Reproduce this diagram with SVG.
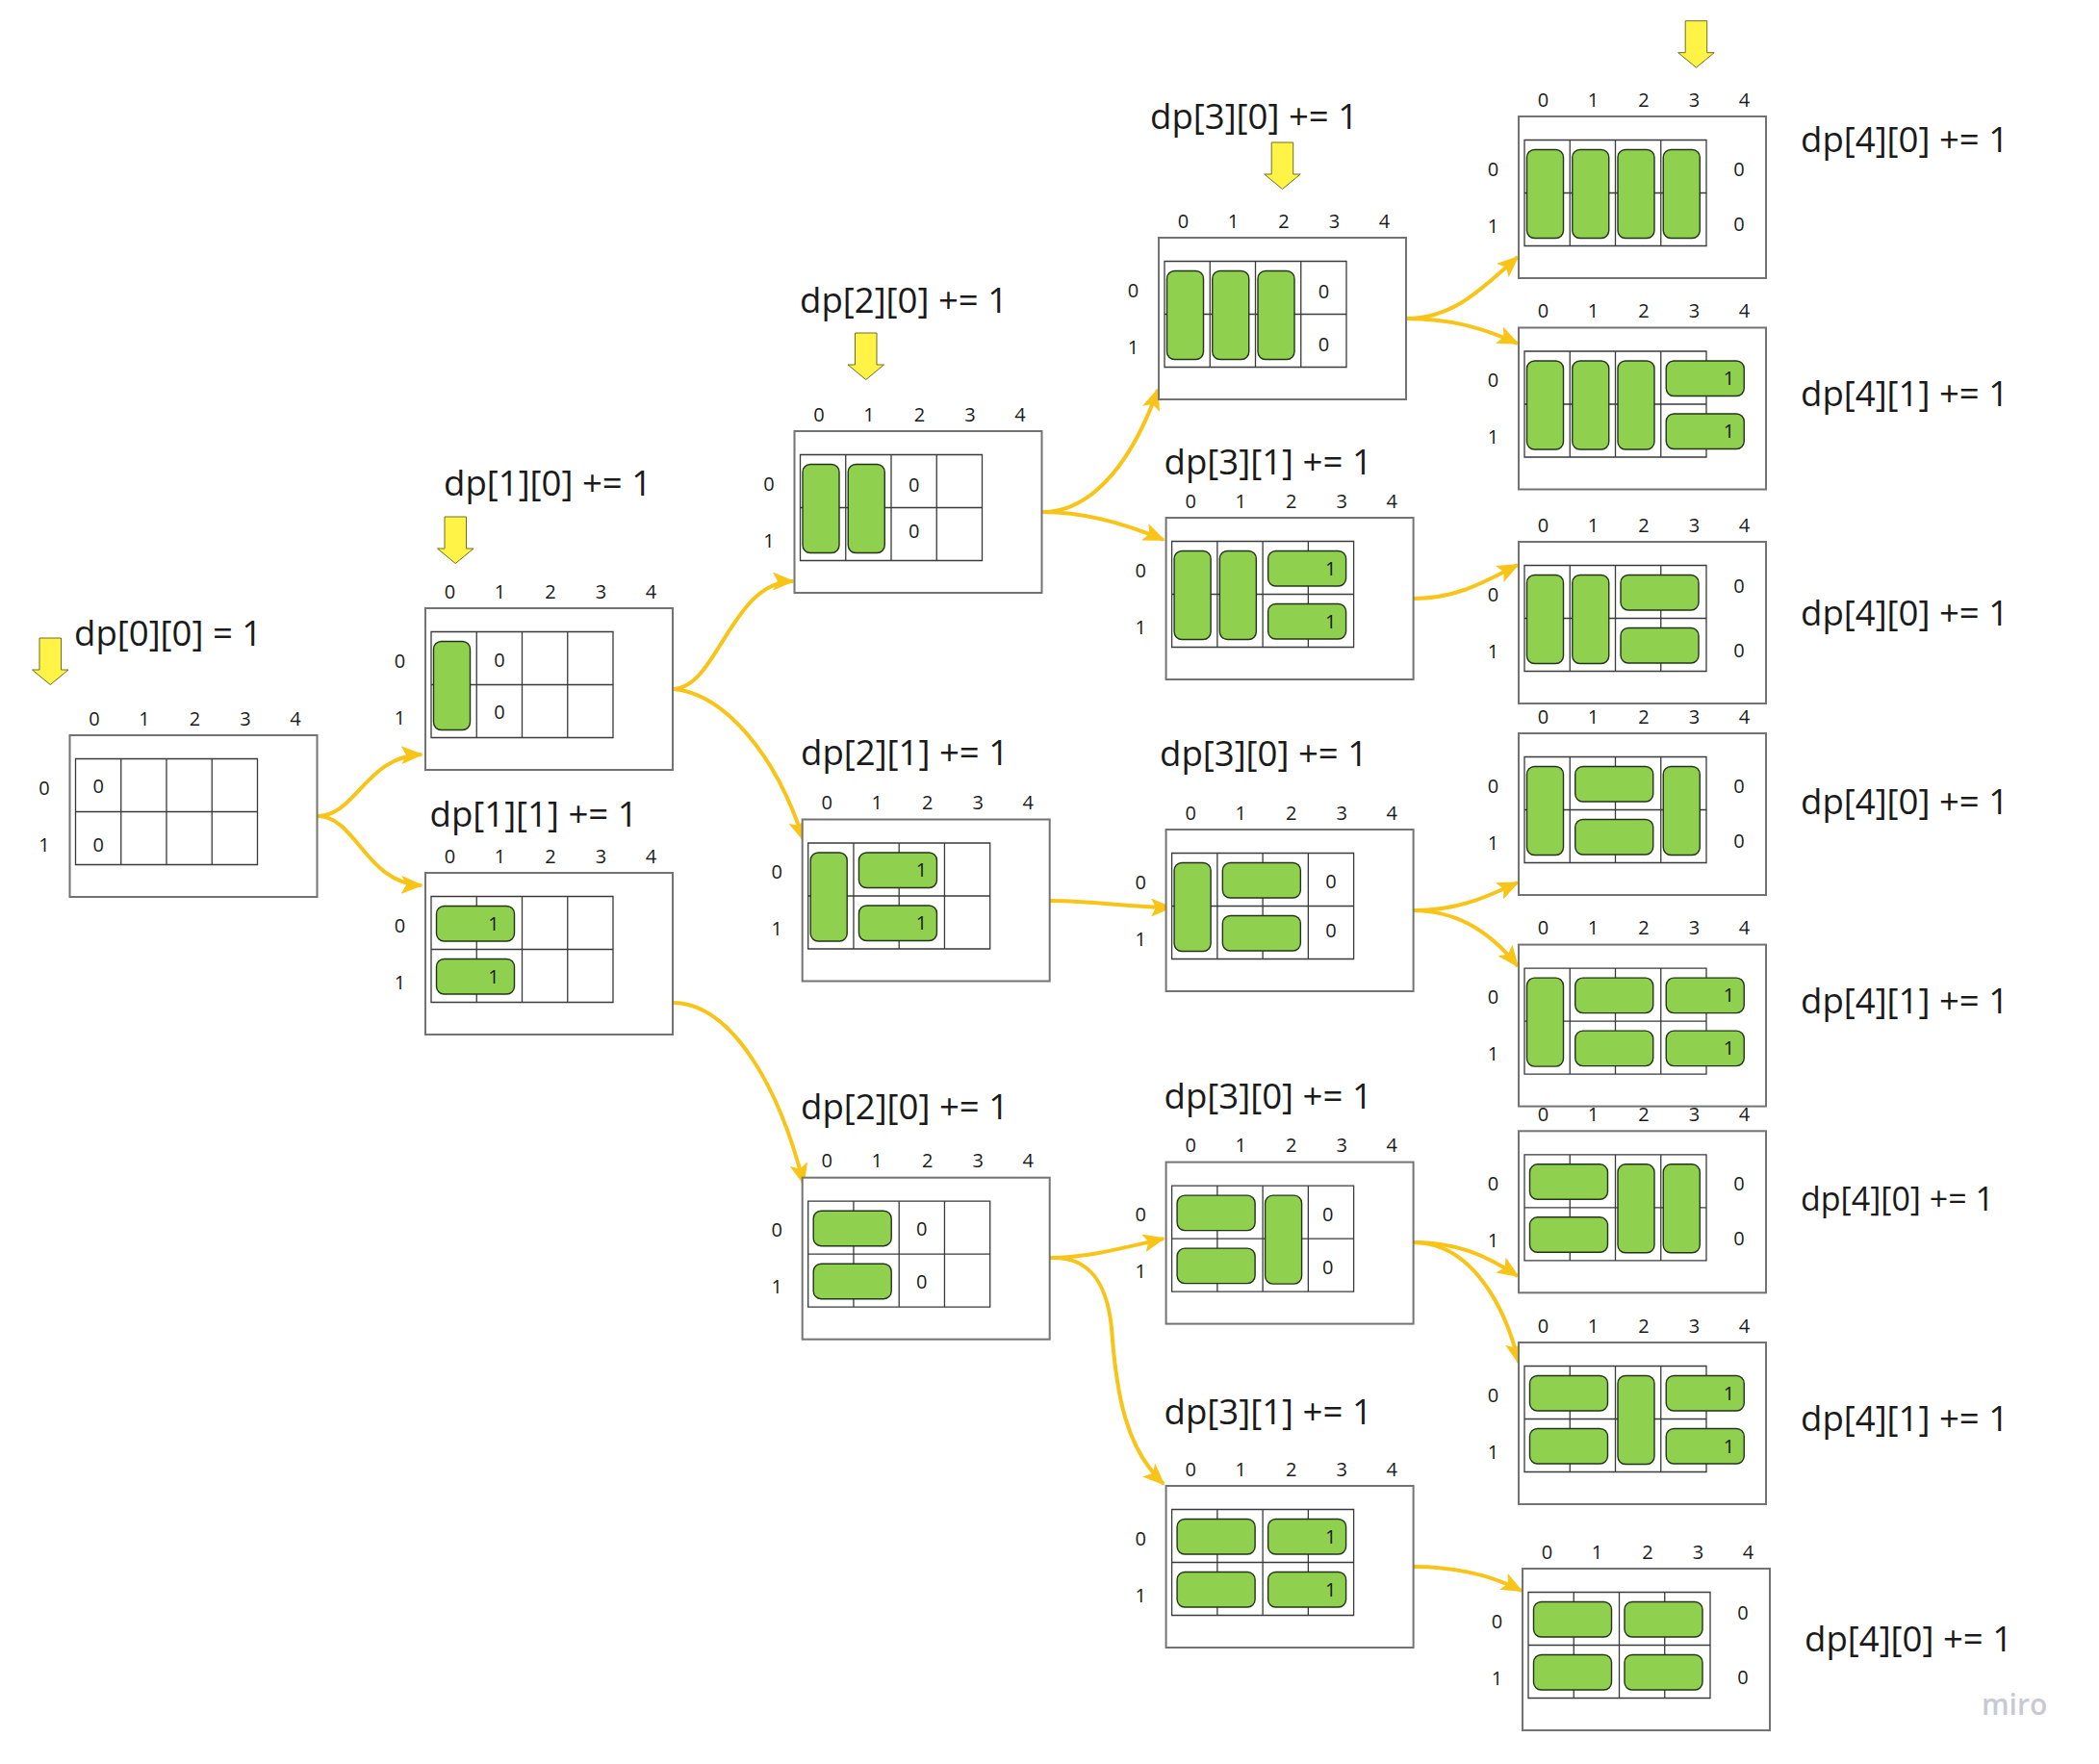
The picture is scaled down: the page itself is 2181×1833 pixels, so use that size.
<svg xmlns="http://www.w3.org/2000/svg" xmlns:xlink="http://www.w3.org/1999/xlink" width="2181" height="1833" viewBox="0 0 2181 1833">
<style>
.box{fill:#fff;stroke:#737373;stroke-width:2}
.grid{fill:none;stroke:#3a3a3a;stroke-width:1.3}
.dom{fill:#8fd14f;stroke:#24331a;stroke-width:1.4}
.lbl{font-family:"Open Sans","Noto Sans","Liberation Sans",sans-serif;font-size:20px;fill:#1a1a1a;text-anchor:middle}
.title{font-family:"Open Sans","Noto Sans","Liberation Sans",sans-serif;font-size:36.6px;fill:#1a1a1a}
.conn{fill:none;stroke:#f8c417;stroke-width:4;marker-end:url(#ah)}
.yarrow{fill:#fff345;stroke:#6e6e23;stroke-width:1}
.wm{font-family:"Open Sans","Noto Sans",sans-serif;font-size:30px;font-weight:600;fill:#c9c9d3}
</style>
<defs>
<marker id="ah" viewBox="0 0 23 19" refX="21" refY="9.5" markerWidth="23" markerHeight="19" markerUnits="userSpaceOnUse" orient="auto">
<path d="M0,0 L23,9.5 L0,19 L5,9.5 Z" fill="#f8c417"/>
</marker>
<path id="yarr" class="yarrow" d="M7.5,0 H30 V33 H37.5 L18.75,48.5 L0,33 H7.5 Z"/>
<g id="frame">
<rect class="box" x="0" y="0" width="257" height="168"/>
<path class="grid" d="M6,24.5 h189 v110 h-189 Z M53.25,24.5 v110 M100.5,24.5 v110 M147.75,24.5 v110 M6,79.5 h189"/>
<text class="lbl" x="25.5" y="-10.5">0</text>
<text class="lbl" x="77.5" y="-10.5">1</text>
<text class="lbl" x="130" y="-10.5">2</text>
<text class="lbl" x="182.5" y="-10.5">3</text>
<text class="lbl" x="234.5" y="-10.5">4</text>
<text class="lbl" x="-26.5" y="61.5">0</text>
<text class="lbl" x="-26.5" y="120.5">1</text>
</g>
<rect id="v0" class="dom" x="8.5" y="34.5" width="38" height="92" rx="8"/>
<rect id="v1" class="dom" x="55.75" y="34.5" width="38" height="92" rx="8"/>
<rect id="v2" class="dom" x="103" y="34.5" width="38" height="92" rx="8"/>
<rect id="v3" class="dom" x="150.25" y="34.5" width="38" height="92" rx="8"/>
<rect id="h00" class="dom" x="11.5" y="34.5" width="81" height="36.5" rx="8"/>
<rect id="h01" class="dom" x="11.5" y="89.5" width="81" height="36.5" rx="8"/>
<rect id="h10" class="dom" x="58.75" y="34.5" width="81" height="36.5" rx="8"/>
<rect id="h11" class="dom" x="58.75" y="89.5" width="81" height="36.5" rx="8"/>
<rect id="h20" class="dom" x="106" y="34.5" width="81" height="36.5" rx="8"/>
<rect id="h21" class="dom" x="106" y="89.5" width="81" height="36.5" rx="8"/>
<rect id="h30" class="dom" x="153.25" y="34.5" width="81" height="36.5" rx="8"/>
<rect id="h31" class="dom" x="153.25" y="89.5" width="81" height="36.5" rx="8"/>
</defs>
<rect x="0" y="0" width="2181" height="1833" fill="#ffffff"/>

<g id="connectors">
<path class="conn" d="M330,848 C370,848 380,786 438,784"/>
<path class="conn" d="M330,848 C370,848 380,918 438,920"/>
<path class="conn" d="M699,716 C745,716 760,604 824,604"/>
<path class="conn" d="M699,716 C750,720 805,780 835,873"/>
<path class="conn" d="M699,1042 C760,1042 810,1130 835,1230"/>
<path class="conn" d="M1083,532 C1140,532 1180,470 1203,405"/>
<path class="conn" d="M1083,532 C1120,532 1160,540 1209,561"/>
<path class="conn" d="M1091,936 C1140,936 1170,943 1217,943"/>
<path class="conn" d="M1091,1307 C1130,1307 1170,1296 1209,1287"/>
<path class="conn" d="M1091,1307 C1130,1305 1150,1330 1155,1380 C1160,1450 1170,1505 1209,1542"/>
<path class="conn" d="M1461,331 C1510,331 1540,300 1577,267"/>
<path class="conn" d="M1461,331 C1505,331 1540,340 1577,357"/>
<path class="conn" d="M1468.6,622 C1515,622 1545,603 1577,587"/>
<path class="conn" d="M1468.6,946 C1515,946 1545,932 1577,917"/>
<path class="conn" d="M1468.6,946 C1515,946 1550,970 1577,1004"/>
<path class="conn" d="M1468.6,1291 C1515,1291 1545,1305 1577,1326"/>
<path class="conn" d="M1468.6,1291 C1530,1291 1565,1360 1578,1416"/>
<path class="conn" d="M1468.6,1628 C1515,1628 1550,1637 1581,1653"/>
</g>

<g id="n-dp00">
<use href="#yarr" x="33.5" y="663"/>
<text class="title" x="77" y="671">dp[0][0] = 1</text>
<g transform="translate(72.5,764)">
<use href="#frame"/>
<text class="lbl" x="29.6" y="59.5">0</text>
<text class="lbl" x="29.6" y="120.5">0</text>
</g>
</g>

<g id="n-dp10">
<use href="#yarr" x="454.5" y="537"/>
<text class="title" x="461" y="515">dp[1][0] += 1</text>
<g transform="translate(442,632)">
<use href="#frame"/>
<use href="#v0"/>
<text class="lbl" x="76.9" y="60.5">0</text>
<text class="lbl" x="76.9" y="114.5">0</text>
</g>
</g>

<g id="n-dp11">
<text class="title" x="446.5" y="859">dp[1][1] += 1</text>
<g transform="translate(442,907)">
<use href="#frame"/>
<use href="#h00"/><use href="#h01"/>
<text class="lbl" x="71" y="59.75">1</text>
<text class="lbl" x="71" y="114.75">1</text>
</g>
</g>

<g id="n-dp20a">
<use href="#yarr" x="881" y="346"/>
<text class="title" x="831" y="325">dp[2][0] += 1</text>
<g transform="translate(825.5,448)">
<use href="#frame"/>
<use href="#v0"/><use href="#v1"/>
<text class="lbl" x="124.1" y="62.5">0</text>
<text class="lbl" x="124.1" y="111">0</text>
</g>
</g>

<g id="n-dp21">
<text class="title" x="832" y="795">dp[2][1] += 1</text>
<g transform="translate(833.7,851.5)">
<use href="#frame"/>
<use href="#v0"/><use href="#h10"/><use href="#h11"/>
<text class="lbl" x="123.75" y="59.75">1</text>
<text class="lbl" x="123.75" y="114.75">1</text>
</g>
</g>

<g id="n-dp20b">
<text class="title" x="832" y="1163">dp[2][0] += 1</text>
<g transform="translate(833.7,1223.7)">
<use href="#frame"/>
<use href="#h00"/><use href="#h01"/>
<text class="lbl" x="124.1" y="60.5">0</text>
<text class="lbl" x="124.1" y="115.5">0</text>
</g>
</g>

<g id="n-dp30a">
<use href="#yarr" x="1313.7" y="148"/>
<text class="title" x="1195" y="133.5">dp[3][0] += 1</text>
<g transform="translate(1204,247)">
<use href="#frame"/>
<use href="#v0"/><use href="#v1"/><use href="#v2"/>
<text class="lbl" x="171.4" y="62.5">0</text>
<text class="lbl" x="171.4" y="117.5">0</text>
</g>
</g>

<g id="n-dp31a">
<text class="title" x="1209.6" y="492.5">dp[3][1] += 1</text>
<g transform="translate(1211.6,538)">
<use href="#frame"/>
<use href="#v0"/><use href="#v1"/><use href="#h20"/><use href="#h21"/>
<text class="lbl" x="171" y="59.75">1</text>
<text class="lbl" x="171" y="114.75">1</text>
</g>
</g>

<g id="n-dp30b">
<text class="title" x="1205" y="796">dp[3][0] += 1</text>
<g transform="translate(1211.6,862)">
<use href="#frame"/>
<use href="#v0"/><use href="#h10"/><use href="#h11"/>
<text class="lbl" x="171.4" y="60.5">0</text>
<text class="lbl" x="171.4" y="111.5">0</text>
</g>
</g>

<g id="n-dp30c">
<text class="title" x="1209.6" y="1152">dp[3][0] += 1</text>
<g transform="translate(1211.6,1207.6)">
<use href="#frame"/>
<use href="#h00"/><use href="#h01"/><use href="#v2"/>
<text class="lbl" x="168" y="61.5">0</text>
<text class="lbl" x="168" y="116.5">0</text>
</g>
</g>

<g id="n-dp31b">
<text class="title" x="1209.6" y="1480">dp[3][1] += 1</text>
<g transform="translate(1211.6,1544)">
<use href="#frame"/>
<use href="#h00"/><use href="#h01"/><use href="#h20"/><use href="#h21"/>
<text class="lbl" x="171" y="59.75">1</text>
<text class="lbl" x="171" y="114.75">1</text>
</g>
</g>

<g id="n-dp4a">
<use href="#yarr" x="1743.7" y="21.7"/>
<text class="title" x="1871" y="158">dp[4][0] += 1</text>
<g transform="translate(1578,121)">
<use href="#frame"/>
<use href="#v0"/><use href="#v1"/><use href="#v2"/><use href="#v3"/>
<text class="lbl" x="229" y="61.5">0</text>
<text class="lbl" x="229" y="118.5">0</text>
</g>
</g>

<g id="n-dp4b">
<text class="title" x="1871" y="422">dp[4][1] += 1</text>
<g transform="translate(1578,340.5)">
<use href="#frame"/>
<use href="#v0"/><use href="#v1"/><use href="#v2"/><use href="#h30"/><use href="#h31"/>
<text class="lbl" x="218.5" y="59.75">1</text>
<text class="lbl" x="218.5" y="114.75">1</text>
</g>
</g>

<g id="n-dp4c">
<text class="title" x="1871" y="650">dp[4][0] += 1</text>
<g transform="translate(1578,563)">
<use href="#frame"/>
<use href="#v0"/><use href="#v1"/><use href="#h20"/><use href="#h21"/>
<text class="lbl" x="229" y="52.5">0</text>
<text class="lbl" x="229" y="119.5">0</text>
</g>
</g>

<g id="n-dp4d">
<text class="title" x="1871" y="846">dp[4][0] += 1</text>
<g transform="translate(1578,762)">
<use href="#frame"/>
<use href="#v0"/><use href="#h10"/><use href="#h11"/><use href="#v3"/>
<text class="lbl" x="229" y="61.5">0</text>
<text class="lbl" x="229" y="118.5">0</text>
</g>
</g>

<g id="n-dp4e">
<text class="title" x="1871" y="1053">dp[4][1] += 1</text>
<g transform="translate(1578,981.6)">
<use href="#frame"/>
<use href="#v0"/><use href="#h10"/><use href="#h11"/><use href="#h30"/><use href="#h31"/>
<text class="lbl" x="218.5" y="59.75">1</text>
<text class="lbl" x="218.5" y="114.75">1</text>
</g>
</g>

<g id="n-dp4f">
<text class="title" x="1871" y="1258" style="font-size:34px">dp[4][0] += 1</text>
<g transform="translate(1578,1175.3)">
<use href="#frame"/>
<use href="#h00"/><use href="#h01"/><use href="#v2"/><use href="#v3"/>
<text class="lbl" x="229" y="61.5">0</text>
<text class="lbl" x="229" y="118.5">0</text>
</g>
</g>

<g id="n-dp4g">
<text class="title" x="1871" y="1487">dp[4][1] += 1</text>
<g transform="translate(1578,1395)">
<use href="#frame"/>
<use href="#h00"/><use href="#h01"/><use href="#v2"/><use href="#h30"/><use href="#h31"/>
<text class="lbl" x="218.5" y="59.75">1</text>
<text class="lbl" x="218.5" y="114.75">1</text>
</g>
</g>

<g id="n-dp4h">
<text class="title" x="1875" y="1716">dp[4][0] += 1</text>
<g transform="translate(1582,1630)">
<use href="#frame"/>
<use href="#h00"/><use href="#h01"/><use href="#h20"/><use href="#h21"/>
<text class="lbl" x="229" y="52.5">0</text>
<text class="lbl" x="229" y="120">0</text>
</g>
</g>

<text class="wm" x="2059" y="1782">miro</text>
</svg>
